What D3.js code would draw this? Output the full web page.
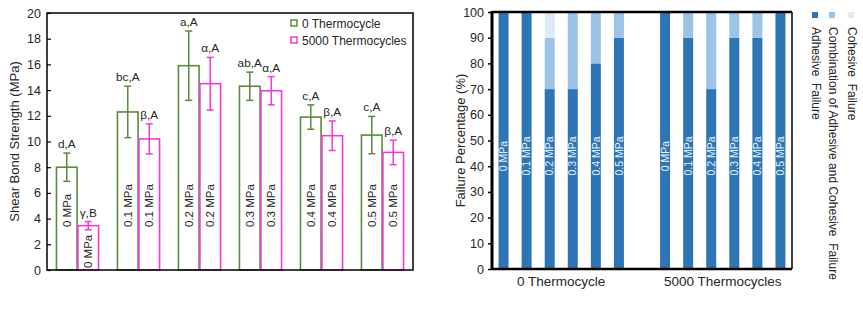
<!DOCTYPE html>
<html><head><meta charset="utf-8">
<script src="https://cdn.jsdelivr.net/npm/d3@7"></script>
<style>body{margin:0;background:#fff;} svg{display:block;font-family:"Liberation Sans",Arial,sans-serif;}</style>
</head><body>
<svg id="c" width="863" height="326"></svg>
<script>
// ---------- data ----------
const pressures = ["0 MPa","0.1 MPa","0.2 MPa","0.3 MPa","0.4 MPa","0.5 MPa"];
const seriesNames = ["0 Thermocycle","5000 Thermocycles"];
const sbs0 = [8.0,12.3,15.9,14.3,11.9,10.5];
const sbs0Err = [1.1,2.0,2.7,1.1,0.95,1.45];
const sbs5000 = [3.45,10.2,14.5,13.95,10.45,9.15];
const sbs5000Err = [0.32,1.17,2.05,1.1,1.15,0.95];
const labels0 = ["d,A","bc,A","a,A","ab,A","c,A","c,A"];
const labels5000 = ["γ,B","β,A","α,A","α,A","β,A","β,A"];
const sbsTicks = [0,2,4,6,8,10,12,14,16,18,20];

const failureTypes = ["Adhesive  Failure","Combination of Adhesive and Cohesive  Failure","Cohesive  Failure"];
const adhesive0 = [100,100,70,70,80,90];
const combo0 = [0,0,20,30,20,10];
const cohesive0 = [0,0,10,0,0,0];
const adhesive5000 = [100,90,70,90,90,100];
const combo5000 = [0,10,30,10,10,0];
const cohesive5000 = [0,0,0,0,0,0];
const pctTicks = [0,10,20,30,40,50,60,70,80,90,100];

const svg = d3.select("#c");
const txt = "#262626";
const green = "#5b8a3c", magenta = "#f23ad8";

// ---------- left chart ----------
{
  const L=47,R=413,T=13,B=270;
  const x0 = d3.scaleBand().domain(pressures).range([L,R]).paddingInner(0.31).paddingOuter(0.155);
  const x1 = d3.scaleBand().domain(seriesNames).range([0,x0.bandwidth()]).paddingInner(0.04);
  const y = d3.scaleLinear().domain([0,20]).range([B,T]);
  const g = svg.append("g");
  const rows = [];
  pressures.forEach((p,i)=>{
    rows.push({p,s:seriesNames[0],v:sbs0[i],e:sbs0Err[i],lab:labels0[i],c:green});
    rows.push({p,s:seriesNames[1],v:sbs5000[i],e:sbs5000Err[i],lab:labels5000[i],c:magenta});
  });
  rows.forEach(d=>{
    const bx = x0(d.p)+x1(d.s), bw = x1.bandwidth(), cx = bx+bw/2;
    g.append("rect").attr("x",bx).attr("y",y(d.v)).attr("width",bw).attr("height",B-y(d.v))
      .attr("fill","#fff").attr("stroke",d.c).attr("stroke-width",1.6);
    const t=y(d.v+d.e), b=y(d.v-d.e);
    g.append("line").attr("x1",cx).attr("x2",cx).attr("y1",t).attr("y2",b).attr("stroke",d.c).attr("stroke-width",1.5);
    [t,b].forEach(yy=>g.append("line").attr("x1",cx-3.5).attr("x2",cx+3.5).attr("y1",yy).attr("y2",yy).attr("stroke",d.c).attr("stroke-width",1.5));
    g.append("text").attr("x",cx).attr("y",t-5).attr("text-anchor","middle").attr("font-size",11.8).attr("fill",txt).text(d.lab);
    const ty = (B-y(d.v))>48 ? 227 : B-2;
    g.append("text").attr("transform",`translate(${cx},${ty}) rotate(-90)`).attr("dy","0.35em")
      .attr("font-size",11.5).attr("fill",txt).text(d.p);
  });
  const ax = g.append("g").attr("transform",`translate(${L},0)`)
    .call(d3.axisLeft(y).tickValues(sbsTicks).tickSizeInner(-4).tickSizeOuter(0).tickPadding(6));
  ax.select(".domain").remove();
  ax.selectAll("line").attr("stroke","#000").attr("stroke-width",1.2);
  ax.selectAll("text").attr("font-size",12.5).attr("fill",txt).attr("font-family","Liberation Sans, Arial");
  g.append("rect").attr("x",L).attr("y",T).attr("width",R-L).attr("height",B-T).attr("fill","none").attr("stroke","#000").attr("stroke-width",1.5);
  g.append("text").attr("transform",`translate(19,${(T+B)/2}) rotate(-90)`).attr("text-anchor","middle")
    .attr("font-size",13).attr("fill",txt).text("Shear Bond Strength (MPa)");
  // legend
  [[green,20,28],[magenta,37,45]].forEach((l,i)=>{
    g.append("rect").attr("x",291).attr("y",l[1]).attr("width",6).attr("height",6).attr("fill","#fff").attr("stroke",l[0]).attr("stroke-width",1.5);
    g.append("text").attr("x",302).attr("y",l[2]).attr("font-size",12).attr("fill",txt).text(seriesNames[i]);
  });
}

// ---------- right chart ----------
{
  const L=492,R=792,T=12,B=269;
  const keys = [];
  const stackRows = [];
  pressures.forEach((p,i)=>{ keys.push("A"+i); stackRows.push({k:"A"+i,p,a:adhesive0[i],m:combo0[i],c:cohesive0[i]}); });
  keys.push("gap");
  pressures.forEach((p,i)=>{ keys.push("B"+i); stackRows.push({k:"B"+i,p,a:adhesive5000[i],m:combo5000[i],c:cohesive5000[i]}); });
  const x = d3.scaleBand().domain(keys).range([L,R]).paddingInner(0.567).paddingOuter(0.2835);
  const y = d3.scaleLinear().domain([0,100]).range([B,T]);
  const colors = ["#2e75b6","#9dc3e6","#deebf7"];
  const stack = d3.stack().keys(["a","m","c"])(stackRows);
  const g = svg.append("g");
  stack.forEach((layer,li)=>{
    layer.forEach(seg=>{
      if (seg[1]-seg[0] <= 0) return;
      g.append("rect").attr("x",x(seg.data.k)).attr("width",x.bandwidth())
        .attr("y",y(seg[1])).attr("height",y(seg[0])-y(seg[1])).attr("fill",colors[li]);
    });
  });
  stackRows.forEach(d=>{
    g.append("text").attr("transform",`translate(${x(d.k)+x.bandwidth()/2},156) rotate(-90)`).attr("dy","0.35em")
      .attr("text-anchor","middle").attr("font-size",10.5).attr("fill","#e8f0fa").text(d.p);
  });
  const ax = g.append("g").attr("transform",`translate(${L},0)`)
    .call(d3.axisLeft(y).tickValues(pctTicks).tickSizeInner(4).tickSizeOuter(0).tickPadding(4));
  ax.select(".domain").remove();
  ax.selectAll("line").attr("stroke","#000").attr("stroke-width",1.5);
  ax.selectAll("text").attr("font-size",12.5).attr("fill",txt).attr("font-family","Liberation Sans, Arial");
  g.append("line").attr("x1",L).attr("x2",R).attr("y1",T).attr("y2",T).attr("stroke","#000").attr("stroke-width",2.5);
  g.append("line").attr("x1",R).attr("x2",R).attr("y1",T).attr("y2",B).attr("stroke","#000").attr("stroke-width",1.5);
  g.append("line").attr("x1",L).attr("x2",R).attr("y1",B).attr("y2",B).attr("stroke","#000").attr("stroke-width",2.5);
  g.append("line").attr("x1",L).attr("x2",L).attr("y1",T-1).attr("y2",B+1).attr("stroke","#000").attr("stroke-width",3);
  const c0 = (x("A0")+x("A5")+x.bandwidth())/2, c1 = (x("B0")+x("B5")+x.bandwidth())/2;
  g.append("text").attr("x",c0).attr("y",286).attr("text-anchor","middle").attr("font-size",13.5).attr("fill",txt).text(seriesNames[0]);
  g.append("text").attr("x",c1).attr("y",286).attr("text-anchor","middle").attr("font-size",13.5).attr("fill",txt).text(seriesNames[1]);
  g.append("text").attr("transform",`translate(465,${(T+B)/2}) rotate(-90)`).attr("text-anchor","middle")
    .attr("font-size",13).attr("fill",txt).text("Failure Percentage (%)");
  // legend (rotated)
  [[812,0],[829,1],[848,2]].forEach(l=>{
    g.append("rect").attr("x",l[0]).attr("y",12).attr("width",6).attr("height",6).attr("fill",colors[l[1]]);
    g.append("text").attr("transform",`translate(${l[0]},27) rotate(90)`).attr("font-size",12).attr("fill",txt)
      .style("white-space","pre").text(failureTypes[l[1]]);
  });
}
</script>
</body></html>
